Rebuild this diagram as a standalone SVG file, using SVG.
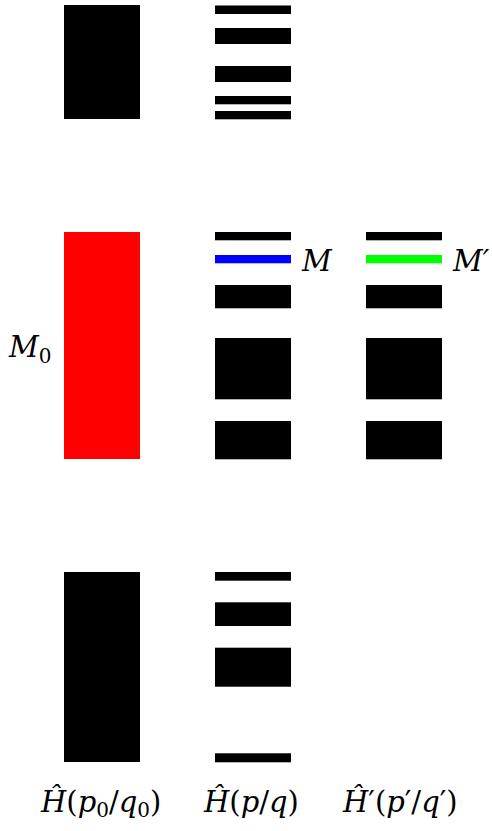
<svg xmlns="http://www.w3.org/2000/svg" width="492" height="831" viewBox="0 0 492 831">
<style>
.b{fill:#000}
.t{font-family:"DejaVu Serif",serif;font-size:29px;fill:#000}
.i{font-style:italic}
.s{font-size:20px}
</style>
<rect width="492" height="831" fill="#fff"/>
<g id="col1">
<rect id="c1-top" class="b" x="64" y="5" width="76" height="114"/>
<rect id="c1-mid" x="64" y="232" width="76" height="227" fill="#f00"/>
<rect id="c1-bot" class="b" x="64" y="572" width="76" height="190"/>
</g>
<g id="col2">
<rect class="b" x="215" y="5.5" width="76" height="8.5"/>
<rect class="b" x="215" y="28" width="76" height="16"/>
<rect class="b" x="215" y="66" width="76" height="16"/>
<rect class="b" x="215" y="96" width="76" height="8.3"/>
<rect class="b" x="215" y="111" width="76" height="8.3"/>
<rect class="b" x="215" y="232" width="76" height="8.3"/>
<rect id="M" x="215" y="255" width="76" height="8.3" fill="#00f"/>
<rect class="b" x="215" y="285" width="76" height="23.3"/>
<rect class="b" x="215" y="338" width="76" height="61.3"/>
<rect class="b" x="215" y="421" width="76" height="38.3"/>
<rect class="b" x="215" y="572" width="76" height="8.7"/>
<rect class="b" x="215" y="602.3" width="76" height="23.7"/>
<rect class="b" x="215" y="647.7" width="76" height="39"/>
<rect class="b" x="215" y="753.3" width="76" height="9"/>
</g>
<g id="col3">
<rect class="b" x="366" y="232" width="76" height="8.3"/>
<rect id="Mp" x="366" y="255" width="76" height="8.3" fill="#0f0"/>
<rect class="b" x="366" y="285" width="76" height="23.3"/>
<rect class="b" x="366" y="338" width="76" height="61.3"/>
<rect class="b" x="366" y="421" width="76" height="38.3"/>
</g>
<g id="labels">
<text class="t i" x="302" y="271">M</text>
<text class="t i" x="453" y="271">M′</text>
<text class="t" x="9" y="357"><tspan class="i">M</tspan><tspan class="s" dy="6">0</tspan></text>
<text class="t" x="41" y="812"><tspan class="i">Ĥ</tspan>(<tspan class="i">p</tspan><tspan class="s" dy="5">0</tspan><tspan dy="-5">/</tspan><tspan class="i">q</tspan><tspan class="s" dy="5">0</tspan><tspan dy="-5">)</tspan></text>
<text class="t" x="204" y="812"><tspan class="i">Ĥ</tspan>(<tspan class="i">p</tspan>/<tspan class="i">q</tspan>)</text>
<text class="t" x="343" y="812"><tspan class="i">Ĥ</tspan>′(<tspan class="i">p</tspan>′/<tspan class="i">q</tspan>′)</text>
</g>
</svg>
